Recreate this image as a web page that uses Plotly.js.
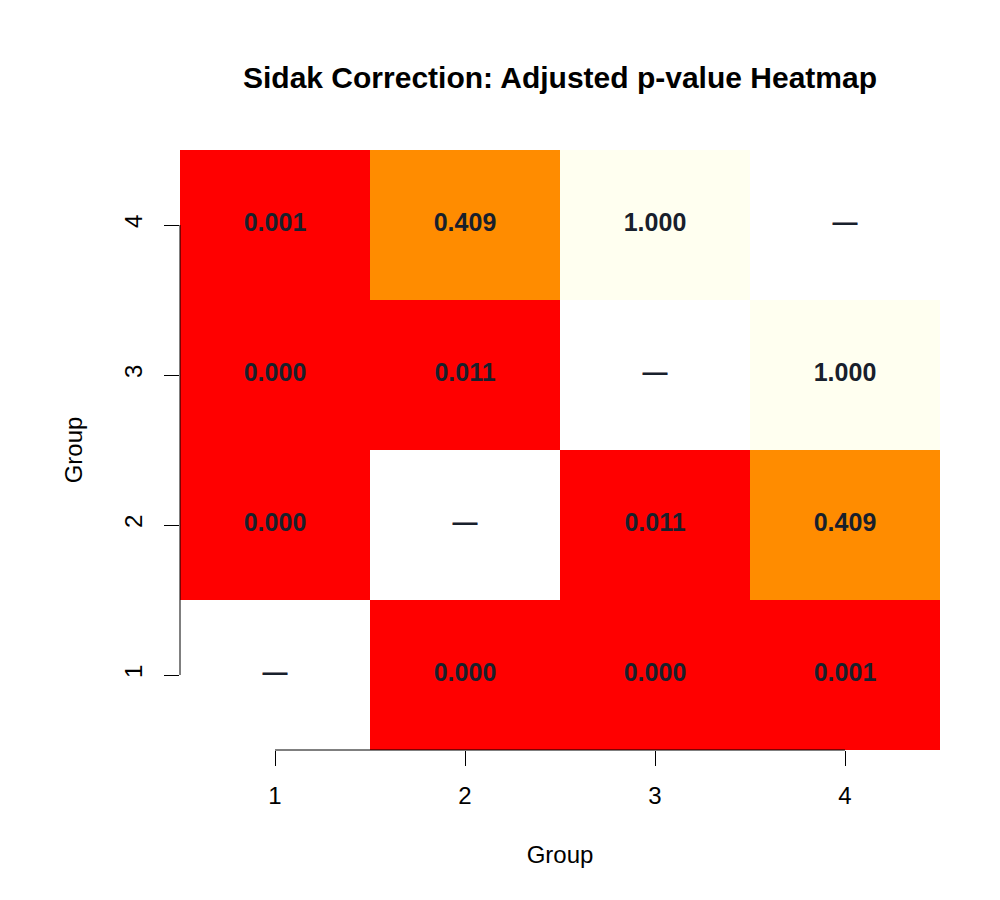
<!DOCTYPE html>
<html>
<head>
<meta charset="utf-8">
<script src="https://cdn.plot.ly/plotly-3.0.1.min.js"></script>
<style>
  html, body { margin: 0; padding: 0; background: #ffffff; }
  #chart { width: 1000px; height: 900px; }
</style>
</head>
<body>
<div id="chart"></div>
<script>
// Groups compared pairwise
const groups = [1, 2, 3, 4];

// Sidak-adjusted p-values, one row per group on the y axis (null = same group)
const pRow1 = [null, 0.000, 0.000, 0.001];
const pRow2 = [0.000, null, 0.011, 0.409];
const pRow3 = [0.000, 0.011, null, 1.000];
const pRow4 = [0.001, 0.409, 1.000, null];
const pMatrix = [pRow1, pRow2, pRow3, pRow4];

// Colour bands for the adjusted p-values
const bandBreaks = [0, 0.05, 0.5, 1];
const bandColors = ['#FF0000', '#FF8C00', '#FFFFF0'];

const colorscale = [];
for (let i = 0; i < bandColors.length; i++) {
  colorscale.push([bandBreaks[i], bandColors[i]]);
  colorscale.push([bandBreaks[i + 1], bandColors[i]]);
}

// Cell labels: formatted value, or a dash on the diagonal
const labelX = [], labelY = [], labelText = [];
pMatrix.forEach((row, r) => {
  row.forEach((v, c) => {
    labelX.push(groups[c]);
    labelY.push(groups[r]);
    labelText.push(v === null ? '\u2014' : v.toFixed(3));
  });
});

const heat = {
  type: 'heatmap',
  x: groups,
  y: groups,
  z: pMatrix,
  zmin: 0,
  zmax: 1,
  colorscale: colorscale,
  showscale: false,
  hoverongaps: false
};

const labels = {
  type: 'scatter',
  mode: 'text',
  x: labelX,
  y: labelY,
  text: labelText,
  textposition: 'middle center',
  textfont: { family: 'Liberation Sans, Arial, sans-serif', size: 25, color: '#18202c', weight: 'bold' },
  hoverinfo: 'skip',
  showlegend: false
};

const axisFont = { family: 'Liberation Sans, Arial, sans-serif', size: 24, color: '#000000' };

const layout = {
  width: 1000,
  height: 900,
  paper_bgcolor: '#ffffff',
  plot_bgcolor: '#ffffff',
  margin: { l: 180, r: 60, t: 150, b: 150 },
  showlegend: false,
  title: {
    text: 'Sidak Correction: Adjusted p-value Heatmap',
    font: { family: 'Liberation Sans, Arial, sans-serif', size: 30, color: '#000000', weight: 'bold' },
    xref: 'paper', x: 0.5, xanchor: 'center',
    yref: 'container', y: 1 - 77 / 900, yanchor: 'middle'
  },
  xaxis: {
    range: [0.5, 4.5],
    tickmode: 'array',
    tickvals: groups,
    ticktext: groups.map(String),
    ticks: 'outside',
    ticklen: 15,
    tickwidth: 1,
    tickcolor: '#000000',
    ticklabelstandoff: 9,
    tickfont: axisFont,
    showgrid: false,
    zeroline: false,
    showline: false,
    fixedrange: true,
    title: { text: 'Group', font: axisFont, standoff: 38 }
  },
  yaxis: {
    range: [0.5, 4.5],
    tickmode: 'array',
    tickvals: groups,
    ticktext: groups.map(String),
    tickangle: -90,
    ticks: 'outside',
    ticklen: 15,
    tickwidth: 1,
    tickcolor: '#000000',
    ticklabelstandoff: 12,
    tickfont: axisFont,
    showgrid: false,
    zeroline: false,
    showline: false,
    fixedrange: true,
    title: { text: 'Group', font: axisFont, standoff: 31 }
  },
  shapes: [
    // axis lines spanning first to last tick
    { type: 'line', xref: 'x', yref: 'paper', x0: groups[0], x1: groups[groups.length - 1], y0: 0, y1: 0,
      line: { color: '#000000', width: 1 } },
    { type: 'line', xref: 'paper', yref: 'y', x0: 0, x1: 0, y0: groups[0], y1: groups[groups.length - 1],
      line: { color: '#000000', width: 1 } }
  ]
};

Plotly.newPlot('chart', [heat, labels], layout, { displayModeBar: false, staticPlot: true });
</script>
</body>
</html>
